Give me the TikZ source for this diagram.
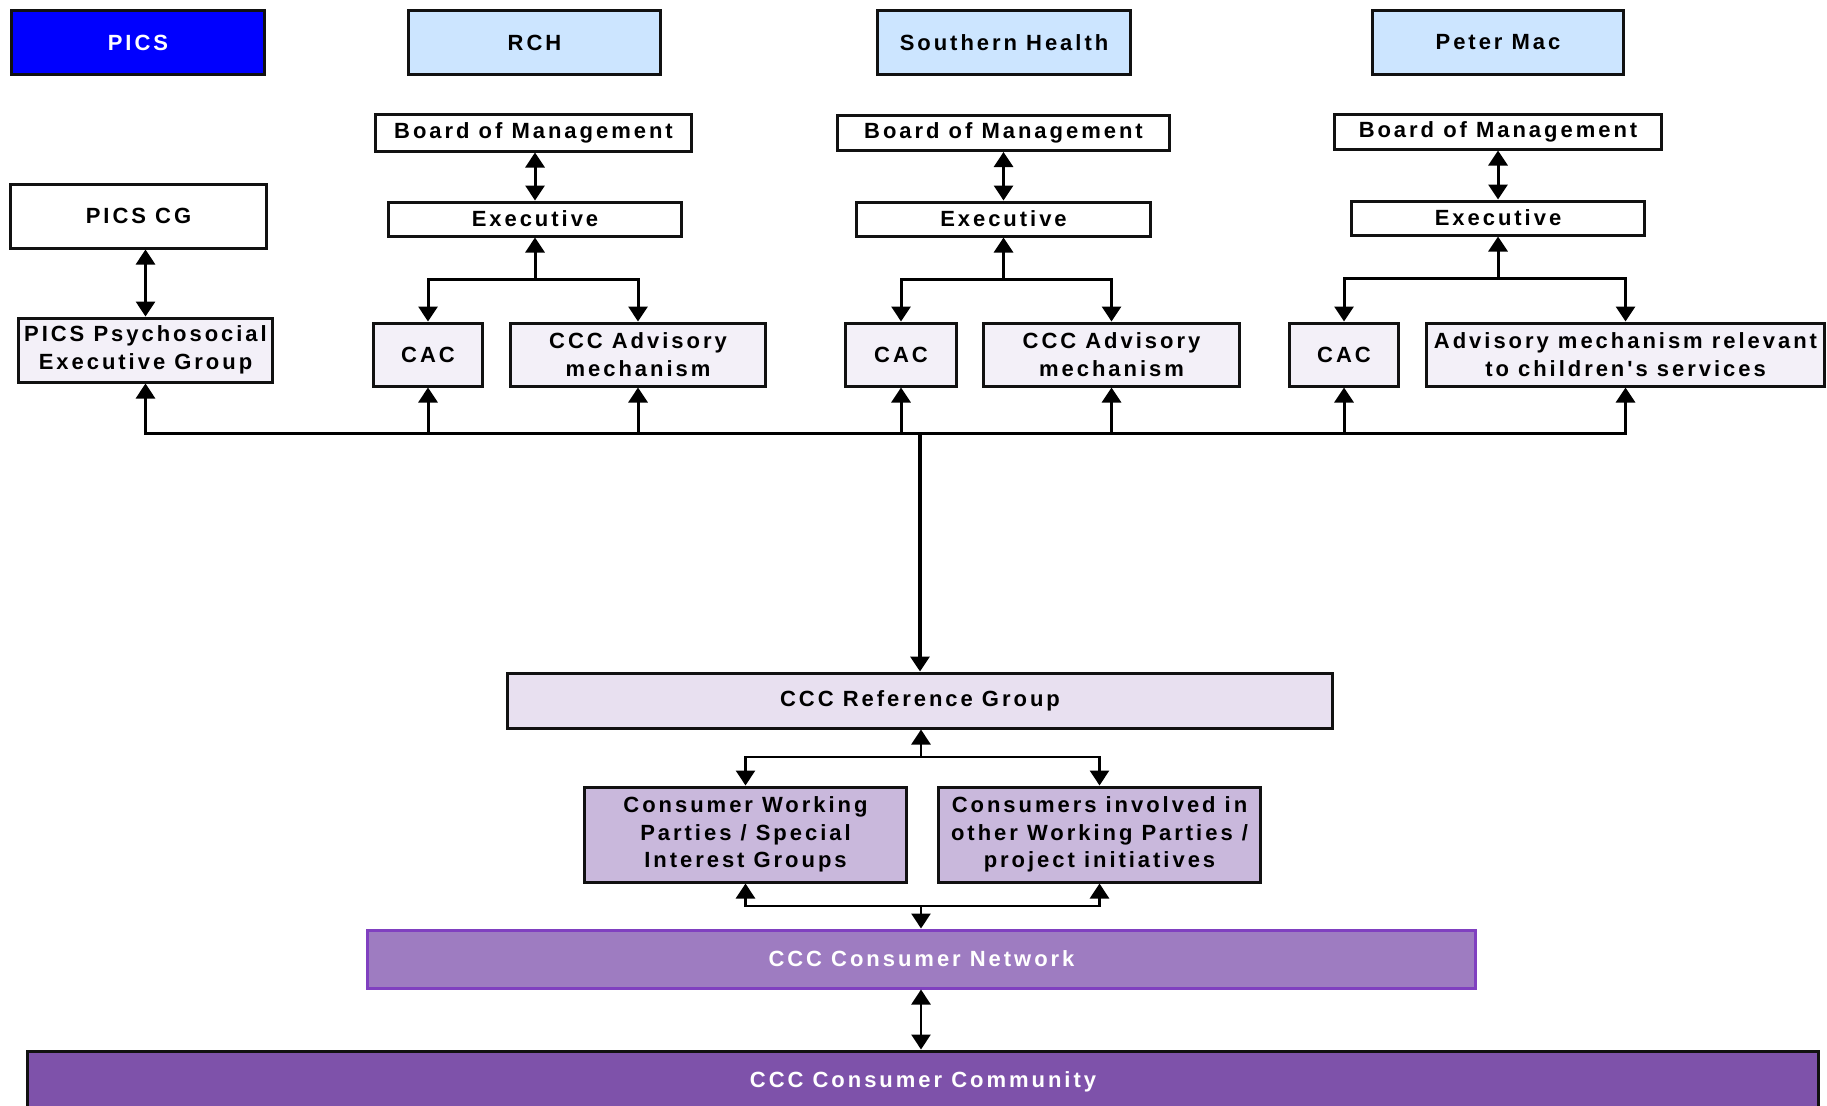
\documentclass[tikz,border=0pt]{standalone}
\usepackage{fontspec}
\newfontfamily\labfont{Liberation Sans}[LetterSpace=13.5]
\usetikzlibrary{arrows.meta}
\definecolor{picsblue}{HTML}{0000FF}
\definecolor{hospblue}{HTML}{CCE5FF}
\definecolor{palelav}{HTML}{F3F0F8}
\definecolor{reflav}{HTML}{E8E0F0}
\definecolor{wplav}{HTML}{C9B8DC}
\definecolor{netfill}{HTML}{9E7CC1}
\definecolor{netline}{HTML}{8040C0}
\definecolor{commfill}{HTML}{7E52AA}
\definecolor{edge}{HTML}{111111}
\tikzset{
  box/.style={draw=edge, line width=3pt, rectangle, inner sep=0pt, align=center,
    font=\labfont\bfseries\fontsize{22}{27.5}\selectfont, text=black},
  conn/.style={line width=3pt, line join=miter, -{Triangle[length=15pt,width=19pt]}},
  thinconn/.style={line width=2.6pt, line join=miter, -{Triangle[length=15pt,width=19pt]}},
  biconn/.style={line width=3pt, {Triangle[length=15pt,width=19pt]}-{Triangle[length=15pt,width=19pt]}},
  thinbiconn/.style={line width=2.6pt, {Triangle[length=15pt,width=19pt]}-{Triangle[length=15pt,width=19pt]}},
}
\begin{document}
\begin{tikzpicture}[x=1pt,y=-1pt]
\useasboundingbox (0,0) rectangle (1827,1105);
% headers
\node[box, fill=picsblue, text=white, minimum width=253pt, minimum height=64pt] (pics) at (138,42.5) {PICS};
\node[box, fill=hospblue, minimum width=252pt, minimum height=64pt] (rch) at (534.5,42.5) {RCH};
\node[box, fill=hospblue, minimum width=253pt, minimum height=64pt] (sh) at (1004,42.5) {Southern Health};
\node[box, fill=hospblue, minimum width=251pt, minimum height=64pt] (pm) at (1498,42.5) {Peter Mac};
% PICS column
\node[box, fill=white, minimum width=256pt, minimum height=64pt] (picscg) at (138.5,216) {PICS CG};
\node[box, fill=palelav, minimum width=254pt, minimum height=64pt] (picsexec) at (145.5,350) {PICS Psychosocial\\Executive Group};
% RCH column
\node[box, fill=white, minimum width=316pt, minimum height=36pt] (rchboard) at (533.5,133) {Board of Management};
\node[box, fill=white, minimum width=293pt, minimum height=34pt] (rchexec) at (535,219) {Executive};
\node[box, fill=palelav, minimum width=109pt, minimum height=63pt] (rchcac) at (428,354.5) {CAC};
\node[box, fill=palelav, minimum width=255pt, minimum height=63pt] (rchadv) at (638,354.5) {CCC Advisory\\mechanism};
% Southern Health column
\node[box, fill=white, minimum width=332pt, minimum height=35pt] (shboard) at (1003.5,133) {Board of Management};
\node[box, fill=white, minimum width=294pt, minimum height=34pt] (shexec) at (1003.5,219) {Executive};
\node[box, fill=palelav, minimum width=111pt, minimum height=63pt] (shcac) at (901,354.5) {CAC};
\node[box, fill=palelav, minimum width=256pt, minimum height=63pt] (shadv) at (1111.5,354.5) {CCC Advisory\\mechanism};
% Peter Mac column
\node[box, fill=white, minimum width=327pt, minimum height=34pt] (pmboard) at (1498,132) {Board of Management};
\node[box, fill=white, minimum width=293pt, minimum height=34pt] (pmexec) at (1498,218) {Executive};
\node[box, fill=palelav, minimum width=109pt, minimum height=63pt] (pmcac) at (1344,354.5) {CAC};
\node[box, fill=palelav, minimum width=398pt, minimum height=63pt] (pmadv) at (1625.5,354.5) {Advisory mechanism relevant\\to children's services};
% lower part
\node[box, fill=reflav, minimum width=825pt, minimum height=55pt] (rg) at (920,700.5) {CCC Reference Group};
\node[box, fill=wplav, minimum width=322pt, minimum height=95pt] (cwp) at (745.5,834.5) {Consumer Working\\Parties / Special\\Interest Groups};
\node[box, fill=wplav, minimum width=322pt, minimum height=95pt] (ci) at (1099.5,834.5) {Consumers involved in\\other Working Parties /\\project initiatives};
\node[box, draw=netline, fill=netfill, text=white, minimum width=1108pt, minimum height=58pt] (net) at (921.5,959) {CCC Consumer Network};
\node[box, fill=commfill, text=white, minimum width=1791pt, minimum height=62pt, anchor=north] (comm) at (923,1049.5) {CCC Consumer Community};
% connectors: PICS
\draw[biconn] (picsexec.north) -- (picsexec.north |- picscg.south);
% Board <-> Executive
\draw[biconn] (rchexec.north) -- (rchexec.north |- rchboard.south);
\draw[biconn] (shexec.north) -- (shexec.north |- shboard.south);
\draw[biconn] (pmexec.north) -- (pmexec.north |- pmboard.south);
% Executive branches
\coordinate (rchj) at (535,279);
\coordinate (shj) at (1003.5,279);
\coordinate (pmj) at (1498,278);
\draw[conn] (rchj) -- (rchexec.south);
\draw[conn] (rchj) -| (rchcac.north);
\draw[conn] (rchj) -| (rchadv.north);
\draw[conn] (shj) -- (shexec.south);
\draw[conn] (shj) -| (shcac.north);
\draw[conn] (shj) -| (shadv.north);
\draw[conn] (pmj) -- (pmexec.south);
\draw[conn] (pmj) -| (pmcac.north);
\draw[conn] (pmj) -| (pmadv.north);
% bus
\coordinate (bus) at (920,433);
\draw[conn, line width=3.4pt] (bus) -- (rg.north);
\draw[conn] (bus) -| (picsexec.south);
\draw[conn] (bus) -| (rchcac.south);
\draw[conn] (bus) -| (rchadv.south);
\draw[conn] (bus) -| (shcac.south);
\draw[conn] (bus) -| (shadv.south);
\draw[conn] (bus) -| (pmcac.south);
\draw[conn] (bus) -| (pmadv.south);
% reference group branches
\coordinate (rgj) at (921,757);
\draw[thinconn] (rgj) -- (rgj |- rg.south);
\draw[thinconn] (rgj) -| (cwp.north);
\draw[thinconn] (rgj) -| (ci.north);
\coordinate (lj) at (921,906);
\draw[thinconn] (lj) -| (cwp.south);
\draw[thinconn] (lj) -| (ci.south);
\draw[thinconn] (lj) -- (lj |- net.north);
\draw[thinbiconn] (lj |- net.south) -- (lj |- comm.north);
\end{tikzpicture}
\end{document}
